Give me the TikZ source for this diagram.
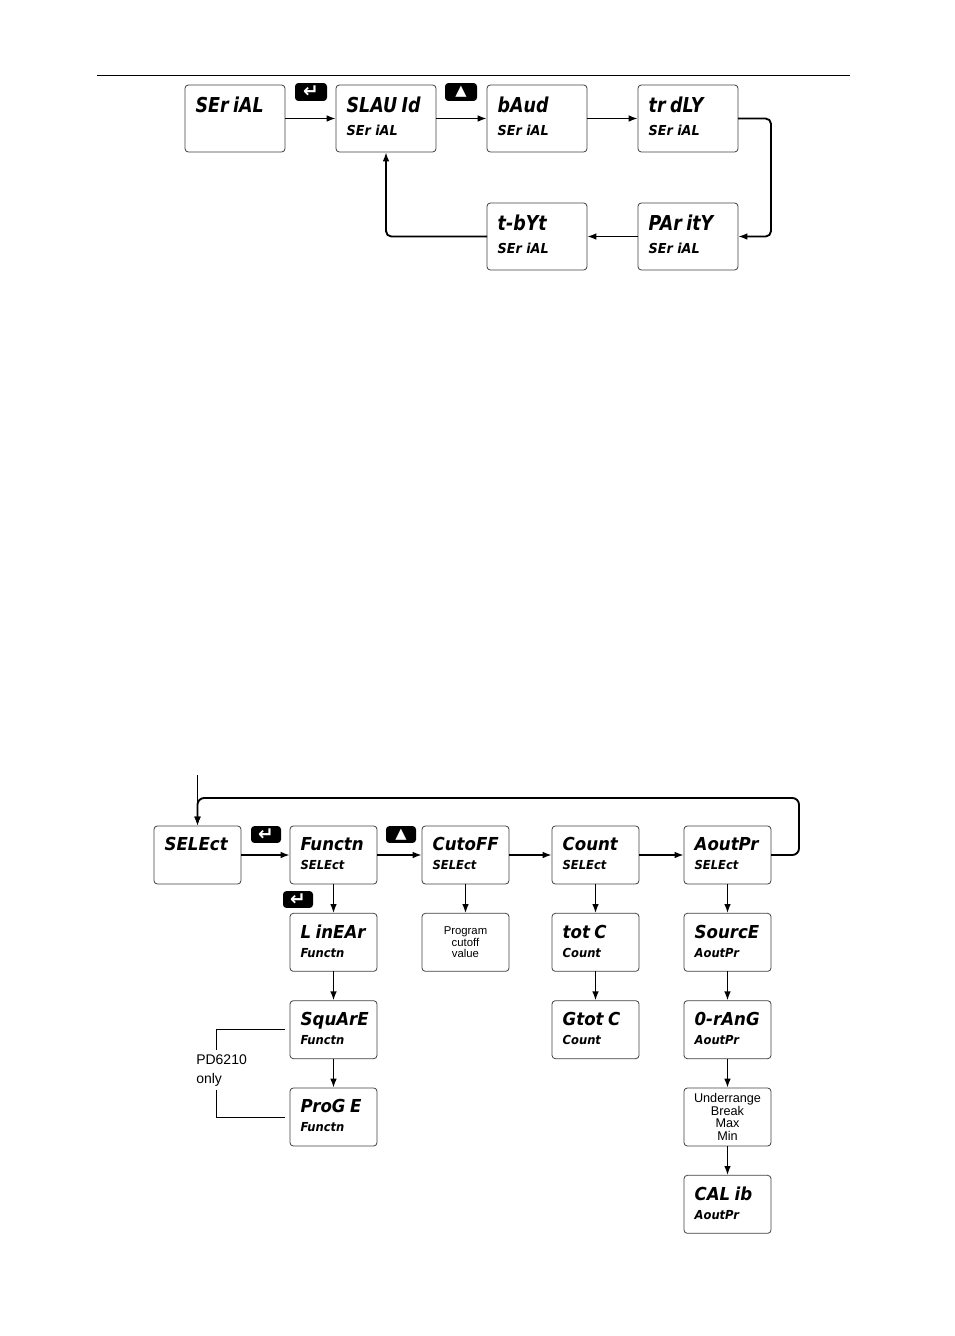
\documentclass[tikz,border=0pt]{standalone}
\usepackage{fontspec}
\setmainfont{Liberation Sans}
\newfontfamily\lcdfont{DejaVu Sans}[FakeStretch=0.85]
\newfontfamily\lcdwide{DejaVu Sans}[FakeStretch=0.93]
\newfontfamily\symfont{DejaVu Sans}
\usetikzlibrary{arrows.meta, positioning}
\newcommand{\lcdtop}[2]{\lcdfont\bfseries\itshape\fontsize{15.4}{17}\selectfont #1\\%
  \lcdwide\bfseries\itshape\fontsize{10.3}{17}\selectfont\mbox{}#2\rule[-3pt]{0pt}{0pt}\par}
\newcommand{\lcdbot}[2]{\fontsize{13.4}{14.25}\selectfont #1\\%
  \fontsize{9.3}{14.25}\selectfont\mbox{}#2\rule[-2pt]{0pt}{0pt}\par}
\tikzset{
  display/.style={rectangle, rounded corners=2.5pt, draw=black!75, line width=0.6pt, outer sep=0pt,
                  align=left, inner xsep=8pt, inner ysep=0pt, font=\lcdwide\bfseries\itshape},
  bigbox/.style={display, text width=59pt, minimum height=50.25pt},
  smallbox/.style={display, text width=49.25pt, minimum height=43.5pt},
  infobox/.style={display, align=center, inner xsep=2pt, text width=61.25pt, minimum height=43.5pt, font=#1},
  keycap/.style={rectangle, rounded corners=2.5pt, fill=black, text=white, inner sep=0pt,
                 font=\symfont\fontsize{11}{11}\selectfont, minimum width=#1, minimum height=0.56*#1},
  enterkey/.style={font=\symfont\bfseries\fontsize{14}{14}\selectfont},
  flow/.style={-{Latex[length=7pt, width=5pt]}, line width=1.4pt},
  bracket/.style={line width=0.6pt},
  note/.style={align=left, inner sep=0pt, font=\fontsize{10.5}{14.25}\selectfont},
}
\begin{document}
\begin{tikzpicture}[x=0.75pt, y=-0.75pt, node distance=38.25pt]
  \useasboundingbox (0,0) rectangle (954,1336);
  \draw[bracket] (97,75) -- (850,75);

  % serial menu
  \node[bigbox] (ser) at (235,118.5) {\lcdtop{SEr iAL}{}};
  \node[bigbox, right=of ser] (slav) {\lcdtop{SLAU Id}{SEr iAL}};
  \node[bigbox, right=of slav] (baud) {\lcdtop{bAud}{SEr iAL}};
  \node[bigbox, right=of baud] (trdly) {\lcdtop{tr dLY}{SEr iAL}};
  \node[bigbox, below=of trdly] (par) {\lcdtop{PAr itY}{SEr iAL}};
  \node[bigbox, left=of par] (tbyt) {\lcdtop{t-bYt}{SEr iAL}};
  \node[keycap=24pt, enterkey] (kent1) at (311,92) {↵};
  \node[keycap=24pt] (kup1) at (461,92) {▲};

  \draw[flow] (ser) -- (slav);
  \draw[flow] (slav) -- (baud);
  \draw[flow] (baud) -- (trdly);
  \draw[flow, rounded corners=4pt] (trdly.east) -- ++(33,0) |- (par.east);
  \draw[flow] (par) -- (tbyt);
  \draw[flow, rounded corners=4pt] (tbyt.west) -| (slav.south);

  % select menu
  \node[smallbox] (sel) at (197.5,855) {\lcdbot{SELEct}{}};
  \node[smallbox, right=36.75pt of sel] (fun) {\lcdbot{Functn}{SELEct}};
  \node[smallbox, right=33.75pt of fun] (cut) {\lcdbot{CutoFF}{SELEct}};
  \node[smallbox, right=32.25pt of cut] (cnt) {\lcdbot{Count}{SELEct}};
  \node[smallbox, right=33.75pt of cnt] (aout) {\lcdbot{AoutPr}{SELEct}};

  \node[smallbox, below=22pt of fun] (lin) {\lcdbot{L inEAr}{Functn}};
  \node[smallbox, below=22pt of lin] (sqr) {\lcdbot{SquArE}{Functn}};
  \node[smallbox, below=22pt of sqr] (prg) {\lcdbot{ProG E}{Functn}};
  \node[infobox={\fontsize{8.5}{8.6}\selectfont}, below=22pt of cut] (pcv) {Program\\cutoff\\value};
  \node[smallbox, below=22pt of cnt] (tot) {\lcdbot{tot C}{Count}};
  \node[smallbox, below=22pt of tot] (gtot) {\lcdbot{Gtot C}{Count}};
  \node[smallbox, below=22pt of aout] (src) {\lcdbot{SourcE}{AoutPr}};
  \node[smallbox, below=22pt of src] (orng) {\lcdbot{0-rAnG}{AoutPr}};
  \node[infobox={\fontsize{9.5}{9.5}\selectfont}, below=22pt of orng] (udr) {Underrange\\Break\\Max\\Min};
  \node[smallbox, below=22pt of udr] (cal) {\lcdbot{CAL ib}{AoutPr}};

  \node[keycap=22.5pt, enterkey] (kent2) at (266,834.5) {↵};
  \node[keycap=22.5pt] (kup2) at (401,834.5) {▲};
  \node[keycap=22.5pt, enterkey] (kent3) at (298,899.5) {↵};

  \coordinate (entry) at (197.5,775);
  \coordinate (ret) at (799,798);
  \draw[flow] (entry) -- (sel.north);
  \draw[flow, rounded corners=5pt] (aout.east) -| (ret) -| (sel.north);
  \draw[flow] (sel) -- (fun);
  \draw[flow] (fun) -- (cut);
  \draw[flow] (cut) -- (cnt);
  \draw[flow] (cnt) -- (aout);
  \draw[flow] (fun) -- (lin);
  \draw[flow] (lin) -- (sqr);
  \draw[flow] (sqr) -- (prg);
  \draw[flow] (cut) -- (pcv);
  \draw[flow] (cnt) -- (tot);
  \draw[flow] (tot) -- (gtot);
  \draw[flow] (aout) -- (src);
  \draw[flow] (src) -- (orng);
  \draw[flow] (orng) -- (udr);
  \draw[flow] (udr) -- (cal);

  % PD6210 bracket
  \node[note, anchor=west] (only) at (196,1071) {PD6210\\only};
  \coordinate (btop) at (216,1050);
  \coordinate (bbot) at (216,1090);
  \draw[bracket] ([xshift=-3.75pt]sqr.west) -| (btop);
  \draw[bracket] (bbot) |- ([xshift=-3.75pt]prg.west);
\end{tikzpicture}
\end{document}
